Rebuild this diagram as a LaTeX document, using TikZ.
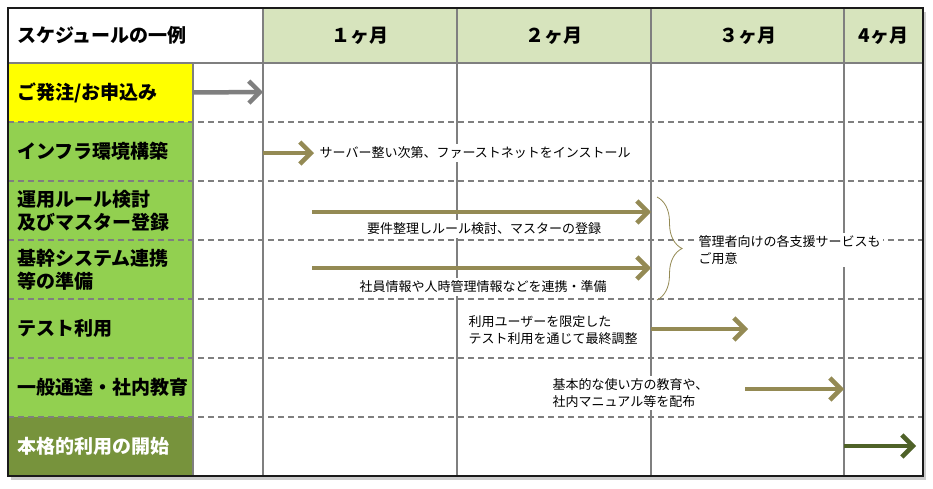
\documentclass[tikz,border=0pt]{standalone}
\usepackage{fontspec}
\setmainfont{Noto Sans CJK JP}
\usetikzlibrary{arrows.meta,positioning,calc,shadows,decorations.pathreplacing}
\definecolor{colFrame}  {HTML}{1A1A1A}
\definecolor{colGrid}   {HTML}{7F7F7F}
\definecolor{colHead}   {HTML}{D7E4BD}
\definecolor{colYellow} {HTML}{FFFF00}
\definecolor{colLime}   {HTML}{92D050}
\definecolor{colOlive}  {HTML}{77933C}
\definecolor{colKhaki}  {HTML}{948A54}
\definecolor{colMoss}   {HTML}{4F6228}
\tikzset{
  cell/.style={
    anchor=north west, inner sep=0pt, outer sep=0pt,
    minimum height=59pt, align=left
  },
  rowlabel/.style={cell, minimum width=185pt, text width=167pt,
    inner xsep=9pt, font=\fontsize{19}{23}\selectfont\bfseries},
  headcell/.style={cell, minimum height=55pt,
    font=\fontsize{19}{23}\selectfont\bfseries},
  month/.style={headcell, fill=colHead, align=center},
  note/.style={fill=white, inner sep=2.5pt, align=left,
    font=\fontsize{13}{17}\selectfont},
  gridline/.style={draw=colGrid, line width=1.8pt},
  rowsep/.style={gridline, dash pattern=on 6pt off 4pt},
  planarr/.style={-{Straight Barb[length=11pt,width=22pt]}, line width=4.5pt},
  greyarr/.style ={planarr, draw=colGrid},
  khakiarr/.style={planarr, draw=colKhaki},
  mossarr/.style ={planarr, draw=colMoss}
}

\begin{document}
\begin{tikzpicture}[x=1pt, y=-1pt]
    \useasboundingbox (0,0) rectangle (933,488);

    % frame with shadow
    \node[cell, minimum width=915pt, minimum height=468pt, fill=white,
      drop shadow={shadow xshift=3pt, shadow yshift=-4pt, fill=black!40}] (frame) at (8,8) {};

    % header row
    \node[headcell, minimum width=255pt, text width=237pt, inner xsep=9pt] (h0) at (8,8) {スケジュールの一例};
    \node[month, minimum width=194pt] (h1) at (263,8) {１ヶ月};
    \node[month, minimum width=194pt] (h2) at (457,8) {２ヶ月};
    \node[month, minimum width=193pt] (h3) at (651,8) {３ヶ月};
    \node[month, minimum width=79pt]  (h4) at (844,8) {4ヶ月};

    % row labels
    \node[rowlabel, fill=colYellow] (l1) at (8,63)  {ご発注/お申込み};
    \node[rowlabel, fill=colLime]   (l2) at (8,122) {インフラ環境構築};
    \node[rowlabel, fill=colLime]   (l3) at (8,181) {運用ルール検討\\及びマスター登録};
    \node[rowlabel, fill=colLime]   (l4) at (8,240) {基幹システム連携\\等の準備};
    \node[rowlabel, fill=colLime]   (l5) at (8,299) {テスト利用};
    \node[rowlabel, fill=colLime]   (l6) at (8,358) {一般通達・社内教育};
    \node[rowlabel, fill=colOlive, text=white, minimum height=58pt] (l7) at (8,417) {本格的利用の開始};

    % grid
    \foreach \y in {122,181,240,299,358,417}
      \draw[rowsep] (8,\y) -- (923,\y);
    \draw[gridline] (8,63) -- (923,63);
    \draw[gridline] (193,63) -- (193,476);
    \foreach \x in {263,457,651,844}
      \draw[gridline] (\x,8) -- (\x,476);

    % notes
    \node[note, anchor=west] (t2) at (317,153) {サーバー整い次第、ファーストネットをインストール};
    \node[note] (t3) at (484,229) {要件整理しルール検討、マスターの登録};
    \node[note] (t4) at (483,287) {社員情報や人時管理情報などを連携・準備};
    \node[note, anchor=west] (t5) at (466,330) {利用ユーザーを限定した\\テスト利用を通じて最終調整};
    \node[note, anchor=west] (t6) at (550,393) {基本的な使い方の教育や、\\社内マニュアル等を配布};
    \node[note, anchor=west] (t9) at (696,250) {管理者向けの各支援サービスも\\ご用意};

    % arrow ends
    \coordinate (a1) at (263,92);
    \coordinate (a2) at (263,153);
    \coordinate (a3s) at (312,212);
    \coordinate (a3e) at (651,212);
    \coordinate (a4s) at (312,268);
    \coordinate (a4e) at (651,268);
    \coordinate (a5s) at (651,329);
    \coordinate (a5e) at (748,329);
    \coordinate (a6s) at (745,389);
    \coordinate (a6e) at (844,389);
    \coordinate (a7s) at (844,446);
    \coordinate (a7e) at (916,446);
    \coordinate (brtop) at (657,197);
    \coordinate (brbot) at (657,300);

    \draw[greyarr] (l1.east) -- (a1);
    \draw[khakiarr, shorten >=3pt] (a2) -- (t2.west);
    \draw[khakiarr] (a3s) -- (a3e);
    \draw[khakiarr] (a4s) -- (a4e);
    \draw[khakiarr] (a5s) -- (a5e);
    \draw[khakiarr] (a6s) -- (a6e);
    \draw[mossarr] (a7s) -- (a7e);
    \draw[colKhaki, line width=0.8pt, decorate,
      decoration={brace, amplitude=25pt}] (brtop) -- (brbot);

    % frame border
    \draw[colFrame, line width=2.5pt] (frame.north west) rectangle (frame.south east);
\end{tikzpicture}
\end{document}
